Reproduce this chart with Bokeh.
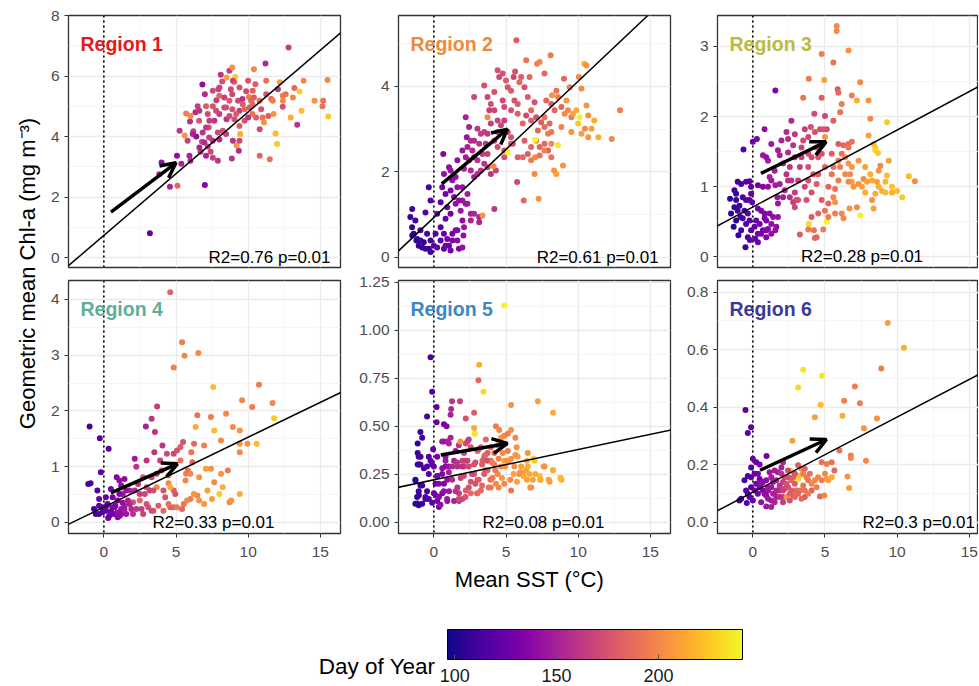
import math
from bokeh.plotting import figure
from bokeh.models import (Range1d, FixedTicker, PrintfTickFormatter, Span, Slope, Arrow,
                          OpenHead, Label, ColumnDataSource, LinearColorMapper, ColorBar)
from bokeh.layouts import row, column
from bokeh.palettes import Plasma256
from bokeh.embed import file_html
from bokeh.resources import INLINE

FONT = "Liberation Sans"

# ---------------- data ----------------
region_names = ["Region 1", "Region 2", "Region 3", "Region 4", "Region 5", "Region 6"]
region_colors = ["#E41A1C", "#EE8A3C", "#BBBB3F", "#5FAF97", "#3D87C6", "#3A3A98"]

# (mean SST degC, geometric mean Chl-a mg m-3, day of year)
region1 = [
    (3.19, 0.80, 125), (7.0, 2.4, 135), (5.1, 2.37, 185), (4.58, 2.34, 150), (4.0, 3.14, 140),
    (3.84, 2.75, 150), (5.07, 3.36, 140), (5.37, 3.1, 150), (5.93, 3.36, 150), (6.0, 3.2, 155),
    (5.25, 4.19, 160), (5.6, 4.03, 205), (5.7, 4.76, 195), (5.97, 4.5, 160), (6.2, 4.17, 165),
    (6.4, 4.0, 140), (6.7, 3.5, 160), (6.8, 3.83, 170), (7.0, 5.4, 155), (6.83, 5.72, 140),
    (7.2, 4.74, 170), (7.27, 4.3, 175), (7.3, 3.97, 165), (7.4, 3.5, 170), (7.9, 3.2, 160),
    (7.8, 5.2, 165), (8.0, 5.35, 185), (8.1, 6.04, 160), (8.2, 5.82, 175), (8.5, 5.95, 210),
    (8.7, 6.17, 165), (8.8, 5.56, 170), (8.9, 6.28, 205), (9.05, 5.8, 190), (9.1, 5.97, 225),
    (9.3, 5.18, 170), (9.4, 4.85, 165), (9.05, 4.57, 175), (8.7, 5.18, 180), (8.35, 4.96, 170),
    (8.5, 4.57, 160), (8.24, 4.19, 175), (8.0, 3.9, 155), (7.55, 3.3, 165), (8.87, 3.27, 160),
    (9.35, 3.53, 155), (9.2, 3.7, 205), (9.45, 4.08, 215), (9.75, 4.52, 175), (9.86, 5.5, 170),
    (10.0, 5.84, 175), (10.05, 5.31, 195), (10.1, 4.96, 180), (10.3, 5.07, 185), (10.4, 6.22, 200),
    (10.5, 5.73, 180), (10.55, 4.63, 180), (10.8, 4.24, 170), (10.8, 3.36, 185), (11.1, 4.46, 205),
    (11.2, 6.41, 155), (11.25, 5.4, 175), (11.4, 4.68, 180), (11.5, 3.25, 190), (11.6, 5.24, 185),
    (11.76, 4.74, 205), (11.9, 4.1, 220), (12.0, 3.75, 225), (12.06, 5.56, 160), (12.2, 5.79, 210),
    (12.4, 5.35, 195), (12.4, 4.98, 175), (12.6, 5.4, 190), (12.8, 6.94, 165), (12.95, 4.63, 215),
    (13.1, 5.29, 200), (13.2, 5.6, 185), (13.4, 4.39, 160), (13.56, 5.49, 225), (13.7, 4.85, 220),
    (13.84, 5.84, 200), (14.6, 5.18, 205), (15.2, 5.18, 190), (15.15, 5.0, 190), (15.5, 5.87, 200),
    (15.55, 4.66, 225), (6.85, 4.13, 160), (6.97, 3.8, 155), (7.2, 3.67, 165), (7.9, 4.13, 170),
    (7.66, 4.52, 160), (8.0, 4.74, 165), (8.7, 4.68, 170), (8.9, 4.9, 175), (9.4, 4.35, 180),
    (9.75, 4.9, 185), (10.3, 4.74, 190), (10.4, 5.29, 180), (10.9, 4.9, 175), (11.0, 4.63, 190),
    (6.5, 5.0, 165), (6.35, 4.8, 155), (6.6, 4.52, 175), (7.55, 5.0, 175), (8.35, 5.29, 165),
    (8.9, 5.4, 170), (10.0, 4.63, 160), (7.08, 5.0, 180), (5.8, 3.86, 165), (6.0, 4.68, 200),
    (7.08, 3.36, 150), (7.94, 5.56, 165), (9.6, 5.24, 160), (7.55, 5.51, 170),
    (6.62, 4.85, 160), (7.31, 4.52, 165), (7.78, 4.85, 170), (8.47, 4.96, 172), (9.17, 4.74, 178),
    (9.63, 5.07, 180), (10.21, 5.18, 185), (10.79, 5.18, 188), (11.71, 5.18, 195), (12.41, 5.18, 200),
    (8.47, 4.08, 165), (8.94, 3.86, 160), (9.4, 3.86, 170), (7.55, 3.86, 158), (6.62, 3.64, 152),
    (6.16, 4.08, 150), (7.08, 4.3, 162), (8.01, 5.62, 168), (9.4, 5.62, 175), (10.32, 5.51, 182),
    (11.25, 5.84, 190), (8.94, 5.84, 168),
]

region2 = [
    (-1.5, 1.13, 110), (-1.63, 0.94, 108), (-1.28, 0.86, 112), (-1.4, 0.55, 105), (-1.5, 0.51, 103),
    (-1.16, 0.43, 108), (-1.05, 0.27, 105), (-0.81, 0.23, 110), (-0.7, 0.35, 106), (-0.93, 0.63, 118),
    (-0.47, 0.55, 112), (-0.35, 0.2, 105), (-0.23, 0.12, 108), (0.0, 0.27, 120), (0.23, 0.23, 125),
    (-0.35, 1.64, 115), (-0.23, 1.33, 120), (-0.58, 1.05, 118), (0.23, 1.02, 125), (0.47, 1.29, 122),
    (0.58, 1.64, 130), (0.7, 1.95, 140), (0.65, 2.42, 135), (0.81, 1.48, 130), (0.93, 1.17, 128),
    (0.81, 0.9, 125), (0.47, 0.7, 120), (0.7, 0.55, 125), (0.93, 0.43, 130), (1.05, 0.27, 128),
    (0.7, 0.2, 122), (1.16, 0.16, 130), (1.28, 0.39, 135), (1.51, 0.63, 135), (1.63, 0.39, 138),
    (1.74, 0.2, 132), (1.98, 0.23, 140), (2.05, 0.51, 140), (2.09, 0.7, 145), (1.98, 0.86, 138),
    (1.86, 1.09, 145), (1.51, 1.25, 140), (1.4, 1.41, 138), (1.16, 1.56, 135), (1.28, 1.8, 140),
    (1.63, 1.64, 142), (1.05, 2.11, 140), (1.16, 2.03, 145), (1.98, 1.33, 145), (2.33, 1.25, 148),
    (2.56, 1.02, 150), (2.79, 1.02, 152), (3.14, 0.94, 150), (3.37, 0.98, 205), (3.14, 0.82, 152),
    (2.56, 0.86, 150), (2.2, 1.25, 145), (4.19, 1.13, 160), (2.33, 1.48, 148), (2.21, 3.28, 150),
    (2.44, 3.05, 150), (2.28, 2.81, 145), (2.56, 2.73, 155), (2.33, 2.58, 150), (2.67, 2.5, 155),
    (2.79, 2.34, 150), (2.44, 2.27, 155), (2.09, 2.07, 150), (2.56, 2.03, 155), (2.79, 1.88, 150),
    (3.02, 1.95, 155), (3.26, 2.03, 160), (3.49, 2.19, 160), (3.72, 2.11, 165), (3.95, 1.95, 160),
    (4.3, 2.03, 165), (4.14, 2.13, 200), (3.02, 2.27, 160), (3.37, 2.42, 165), (3.6, 2.66, 160),
    (3.26, 2.89, 165), (3.02, 3.01, 160), (2.79, 3.75, 170), (3.49, 4.02, 175), (3.72, 3.75, 170),
    (3.95, 3.59, 175), (4.19, 3.87, 175), (4.42, 4.38, 175), (4.53, 4.22, 170), (4.77, 4.3, 175),
    (5.0, 4.14, 180), (5.12, 3.98, 175), (5.35, 3.9, 180), (5.53, 4.22, 170), (5.63, 4.35, 175),
    (5.72, 5.08, 180), (5.93, 4.1, 185), (6.05, 4.22, 180), (6.28, 3.98, 175), (6.4, 4.61, 190),
    (6.63, 4.22, 185), (6.51, 3.75, 180), (6.74, 3.44, 185), (6.98, 3.63, 175), (7.16, 4.53, 195),
    (7.33, 4.57, 200), (7.67, 4.3, 185), (7.79, 3.67, 185), (8.09, 4.73, 195), (8.14, 3.59, 180),
    (8.19, 3.79, 205), (8.37, 3.44, 185), (8.49, 3.9, 190), (8.6, 3.75, 195), (8.84, 3.52, 185),
    (9.02, 4.18, 185), (9.19, 3.67, 205), (9.3, 3.44, 200), (9.53, 3.28, 195), (9.65, 3.36, 210),
    (9.88, 3.44, 215), (10.0, 3.13, 225), (10.1, 3.28, 240), (10.05, 4.22, 200), (10.23, 3.95, 200),
    (10.42, 4.53, 215), (10.58, 4.49, 205), (10.47, 3.01, 200), (10.58, 3.55, 205), (10.7, 3.32, 205),
    (10.93, 3.01, 210), (11.12, 3.2, 215), (11.4, 2.81, 215), (10.7, 2.81, 205), (12.33, 2.77, 200),
    (12.9, 3.44, 195), (4.42, 2.93, 170), (4.65, 3.09, 170), (4.88, 3.2, 165), (5.12, 2.93, 170),
    (5.35, 2.81, 175), (5.47, 2.66, 170), (4.88, 2.5, 175), (5.12, 2.46, 240), (5.81, 2.34, 180),
    (6.16, 2.34, 185), (6.51, 2.42, 180), (6.74, 2.27, 195), (7.09, 2.73, 195), (7.02, 2.75, 240),
    (7.33, 2.58, 185), (7.67, 2.66, 185), (7.91, 2.5, 180), (8.14, 2.34, 190), (8.33, 2.03, 205),
    (8.49, 1.95, 210), (8.6, 2.62, 235), (8.95, 2.15, 205), (6.98, 1.95, 200), (7.02, 2.34, 200),
    (7.33, 2.38, 190), (5.77, 1.76, 170), (6.23, 1.33, 185), (7.26, 1.37, 205), (5.81, 3.36, 180),
    (6.16, 3.13, 185), (6.4, 3.32, 170), (5.58, 3.67, 175), (4.77, 3.67, 170), (4.19, 3.44, 170),
    (3.84, 3.44, 165), (3.72, 3.28, 200), (3.95, 3.13, 165), (3.49, 2.93, 165), (7.67, 3.28, 190),
    (8.02, 3.13, 185), (7.44, 3.16, 180), (7.09, 3.28, 175), (7.91, 2.89, 195), (9.07, 3.36, 200),
    (9.42, 3.98, 195),
    (-1.51, 0.7, 106), (-1.21, 0.39, 107), (-0.93, 0.39, 108), (-0.58, 0.2, 110), (-0.23, 0.39, 115),
    (0.12, 0.55, 120), (0.47, 0.39, 122), (0.81, 0.27, 126), (1.28, 0.55, 132), (1.63, 0.63, 136),
    (1.16, 1.02, 130), (1.74, 1.33, 140), (1.98, 1.64, 142), (1.51, 1.88, 140), (1.63, 2.27, 142),
    (1.98, 2.5, 145), (2.21, 2.34, 148), (2.79, 2.73, 155), (3.14, 2.66, 160), (3.72, 2.89, 162),
    (4.19, 2.73, 168), (4.42, 3.2, 168), (4.88, 3.52, 172), (5.35, 3.44, 175), (5.81, 3.59, 178),
    (6.74, 3.2, 182), (7.21, 2.97, 185), (7.67, 3.05, 188), (8.14, 2.93, 192), (8.84, 3.05, 198),
    (9.53, 2.93, 205), (10.23, 2.89, 210), (6.28, 2.73, 180), (6.74, 2.58, 185), (7.67, 2.5, 195),
    (8.14, 2.66, 200), (5.35, 2.66, 178), (4.42, 2.58, 172), (3.72, 2.42, 165), (4.88, 2.34, 176),
]

region3 = [
    (-1.58, 0.83, 105), (-1.28, 0.95, 110), (-1.16, 0.9, 108), (-1.05, 1.07, 112), (-0.81, 1.04, 115),
    (-0.47, 1.07, 118), (-0.23, 1.08, 122), (-1.28, 0.71, 108), (-1.05, 0.66, 110), (-1.16, 0.52, 106),
    (-1.33, 0.43, 104), (-1.0, 0.31, 106), (-0.81, 0.38, 110), (-0.7, 0.55, 115), (-0.47, 0.47, 118),
    (-0.35, 0.62, 120), (-0.23, 0.81, 118), (-0.12, 0.9, 125), (-0.35, 0.28, 115), (-0.51, 0.14, 110),
    (-0.21, 0.24, 122), (0.16, 0.26, 125), (0.35, 0.33, 130), (0.12, 0.43, 125), (0.23, 0.52, 128),
    (0.35, 0.69, 130), (0.58, 0.66, 132), (0.81, 0.62, 135), (0.93, 0.52, 135), (1.05, 0.4, 138),
    (1.28, 0.33, 140), (0.93, 0.28, 135), (0.7, 0.38, 130), (1.4, 0.57, 140), (1.74, 0.57, 142),
    (1.63, 0.43, 140), (1.7, 0.85, 145), (2.09, 0.85, 148), (1.56, 2.37, 135), (0.81, 1.82, 140),
    (0.28, 1.68, 130), (0.0, 1.64, 125), (-0.65, 1.53, 118), (-0.05, 0.78, 125), (-0.12, 1.0, 122),
    (0.35, 1.02, 130), (0.7, 1.0, 135), (1.05, 1.0, 140), (1.28, 1.09, 145), (1.56, 1.02, 148),
    (0.7, 1.45, 145), (1.05, 1.37, 148), (1.16, 1.14, 150), (1.51, 1.23, 150), (1.86, 1.45, 150),
    (1.98, 1.66, 150), (2.33, 1.78, 155), (2.44, 1.68, 155), (2.67, 1.94, 155), (2.91, 1.75, 160),
    (2.79, 1.59, 160), (2.44, 1.49, 155), (2.09, 1.33, 155), (2.33, 1.18, 160), (2.56, 1.28, 160),
    (2.67, 1.09, 160), (2.91, 0.92, 165), (3.02, 0.81, 170), (2.79, 0.78, 165), (3.14, 1.09, 165),
    (3.26, 1.28, 165), (3.37, 1.42, 165), (3.6, 1.82, 165), (3.49, 1.66, 170), (3.84, 1.71, 170),
    (4.02, 1.85, 175), (4.26, 2.04, 170), (4.3, 1.78, 175), (4.42, 1.56, 175), (4.07, 1.42, 170),
    (3.84, 1.28, 175), (4.19, 1.18, 175), (4.42, 1.04, 180), (4.07, 0.92, 175), (3.72, 0.81, 175),
    (3.88, 0.47, 230), (3.84, 0.39, 195), (4.23, 0.38, 190), (4.42, 0.28, 185), (4.3, 0.27, 185),
    (3.26, 0.32, 180), (4.88, 0.39, 195), (5.12, 0.5, 240), (5.0, 0.66, 190), (5.23, 0.76, 185),
    (4.77, 0.81, 180), (5.23, 1.0, 185), (5.47, 1.18, 190), (5.58, 0.85, 200), (5.7, 0.78, 205),
    (5.7, 0.97, 190), (5.93, 1.09, 195), (6.05, 1.28, 195), (6.16, 1.47, 190), (6.28, 1.59, 185),
    (6.4, 1.42, 200), (6.63, 1.33, 205), (6.74, 1.18, 200), (6.86, 1.07, 210), (6.98, 1.0, 205),
    (6.63, 1.07, 200), (6.16, 0.62, 200), (6.28, 0.55, 200), (6.7, 0.69, 205), (7.44, 0.59, 240),
    (7.21, 0.71, 200), (7.33, 1.04, 205), (7.56, 1.0, 210), (7.79, 0.92, 215), (7.67, 1.11, 200),
    (7.91, 1.07, 210), (8.14, 1.18, 215), (8.26, 0.81, 205), (8.37, 0.69, 210), (8.49, 0.9, 215),
    (8.6, 1.07, 210), (8.72, 1.23, 205), (8.84, 1.3, 200), (8.95, 0.94, 215), (9.19, 0.92, 220),
    (9.3, 1.16, 220), (9.42, 1.37, 210), (9.65, 0.92, 215), (10.0, 0.94, 220), (10.35, 0.85, 225),
    (10.81, 1.15, 220), (11.23, 1.08, 200), (9.3, 1.92, 225), (8.49, 1.56, 225), (8.49, 1.52, 230),
    (8.67, 1.48, 225), (8.37, 1.61, 220), (8.02, 1.73, 210), (8.14, 1.97, 200), (8.02, 2.23, 205),
    (7.21, 2.23, 215), (7.44, 2.49, 200), (6.86, 2.3, 195), (6.16, 2.18, 195), (6.05, 2.06, 190),
    (5.88, 2.39, 180), (5.93, 2.34, 185), (5.58, 2.77, 190), (6.63, 2.94, 205), (5.81, 3.29, 200),
    (5.81, 3.22, 200), (4.77, 2.89, 195), (4.95, 2.52, 210), (3.88, 2.54, 195), (3.49, 2.27, 190),
    (4.77, 2.27, 180), (5.0, 2.01, 170), (5.58, 1.94, 180), (6.63, 1.61, 185), (6.86, 1.64, 190),
    (6.63, 1.56, 190), (5.12, 1.82, 170), (5.47, 1.47, 180), (5.93, 1.61, 180), (4.77, 1.47, 175),
    (5.0, 1.71, 205), (4.65, 1.82, 175), (4.88, 1.82, 175),
    (-1.51, 0.62, 106), (-1.16, 0.81, 108), (-0.93, 0.73, 110), (-0.7, 0.85, 115), (-0.47, 0.81, 118),
    (-0.86, 0.57, 112), (-0.58, 0.66, 115), (-0.23, 0.52, 120), (-0.12, 0.38, 122), (0.47, 0.47, 128),
    (0.81, 0.55, 132), (1.16, 0.62, 138), (1.28, 0.47, 140), (0.93, 0.38, 136), (0.58, 0.33, 130),
    (0.35, 0.21, 128), (1.56, 0.38, 142), (1.74, 0.76, 145), (1.86, 1.04, 148), (2.21, 0.95, 152),
    (2.56, 0.85, 158), (3.14, 0.81, 175), (3.6, 1.0, 170), (3.84, 1.09, 172), (4.53, 1.18, 180),
    (5.0, 1.28, 185), (5.58, 1.28, 190), (5.93, 1.37, 192), (6.4, 1.18, 200), (6.86, 1.28, 205),
    (7.33, 1.37, 205), (7.79, 1.28, 210), (8.26, 1.09, 212), (8.72, 1.0, 215), (9.19, 1.07, 218),
    (9.65, 1.0, 222), (5.7, 0.62, 195), (5.23, 0.57, 195), (4.53, 0.62, 185), (4.07, 0.57, 180),
    (2.91, 0.71, 170), (2.44, 1.09, 158), (1.74, 1.52, 148), (1.28, 1.61, 145), (0.93, 1.42, 142),
    (2.91, 1.42, 162), (3.37, 1.56, 168), (3.84, 1.47, 172), (4.53, 1.42, 178),
]

region4 = [
    (-0.99, 1.72, 115), (-0.28, 1.51, 118), (0.33, 1.32, 120), (-1.08, 0.69, 112), (-0.92, 0.7, 115),
    (-0.45, 0.57, 118), (-0.21, 0.9, 122), (-0.33, 0.42, 125), (-0.68, 0.24, 110), (0.14, 0.45, 125),
    (0.49, 0.6, 130), (0.89, 0.81, 135), (1.08, 0.75, 138), (1.43, 0.78, 140), (0.96, 0.39, 135),
    (0.61, 0.27, 130), (-0.09, 0.18, 120), (-0.56, 0.15, 115), (-0.33, 0.3, 120), (0.14, 0.21, 125),
    (0.38, 0.12, 128), (0.73, 0.15, 132), (0.96, 0.18, 140), (1.2, 0.24, 142), (1.43, 0.3, 148),
    (1.67, 0.39, 150), (1.55, 0.15, 145), (1.9, 0.24, 155), (2.14, 0.57, 155), (2.37, 0.69, 160),
    (2.14, 1.14, 145), (2.49, 0.39, 185), (2.02, 0.36, 175), (2.61, 0.24, 165), (2.84, 0.51, 170),
    (2.96, 0.33, 175), (3.19, 0.57, 165), (3.31, 0.21, 170), (2.91, 1.72, 150), (2.96, 1.11, 160),
    (3.31, 1.86, 160), (3.5, 1.26, 160), (3.69, 2.08, 165), (3.66, 0.87, 165), (4.06, 1.38, 160),
    (3.9, 1.11, 165), (4.13, 0.57, 175), (4.25, 0.45, 175), (4.48, 0.7, 200), (4.6, 0.27, 180),
    (4.84, 0.57, 180), (4.95, 0.51, 175), (4.84, 0.27, 185), (4.6, 4.13, 185), (4.84, 2.78, 195),
    (5.42, 3.23, 195), (5.59, 2.99, 200), (6.55, 3.04, 200), (4.84, 1.23, 170), (5.07, 1.29, 175),
    (5.31, 1.35, 180), (5.49, 1.44, 175), (5.31, 1.11, 190), (5.66, 0.75, 200), (5.7, 0.87, 195),
    (5.82, 0.93, 190), (6.0, 0.87, 200), (6.13, 1.08, 185), (6.06, 1.26, 190), (6.25, 1.41, 185),
    (6.48, 1.92, 190), (6.36, 1.71, 215), (6.6, 0.81, 205), (6.48, 0.48, 200), (6.6, 0.39, 205),
    (6.0, 0.42, 195), (5.54, 0.33, 190), (5.42, 0.24, 185), (6.95, 1.38, 195), (7.07, 0.96, 210),
    (7.42, 0.96, 205), (7.65, 0.72, 200), (7.49, 0.42, 210), (6.95, 0.33, 205), (7.42, 1.89, 195),
    (7.58, 2.43, 220), (7.65, 1.65, 220), (8.12, 1.47, 200), (8.12, 0.87, 205), (8.24, 0.63, 215),
    (8.0, 0.51, 225), (8.47, 1.95, 200), (8.59, 0.93, 195), (8.71, 0.36, 200), (8.83, 0.39, 205),
    (8.94, 1.71, 200), (9.42, 1.65, 205), (9.42, 1.41, 205), (9.42, 1.26, 200), (9.42, 0.51, 215),
    (9.58, 2.19, 200), (9.95, 1.41, 205), (10.28, 2.07, 195), (10.59, 1.41, 220), (10.75, 2.47, 195),
    (11.69, 2.14, 200), (11.8, 1.87, 225), (4.37, 1.23, 170), (3.54, 1.62, 160), (4.0, 0.93, 170),
    (3.31, 0.81, 170), (3.66, 0.63, 200), (4.6, 0.63, 215), (4.48, 0.84, 200), (2.72, 0.81, 175),
    (2.25, 1.0, 160), (1.78, 0.57, 150), (1.31, 0.51, 145), (1.2, 0.66, 140), (0.2, 0.3, 122),
    (0.5, 0.2, 128), (0.8, 0.3, 133), (1.1, 0.12, 138), (1.3, 0.35, 140), (0.3, 0.08, 125),
    (-0.33, 0.15, 112), (-0.09, 0.27, 118), (0.26, 0.33, 124), (0.49, 0.15, 128), (0.73, 0.27, 132),
    (0.96, 0.09, 136), (1.2, 0.15, 140), (1.43, 0.24, 145), (1.78, 0.33, 152), (2.02, 0.15, 158),
    (2.25, 0.24, 162), (2.72, 0.15, 168), (3.08, 0.27, 172), (3.43, 0.21, 176), (3.78, 0.3, 180),
    (4.13, 0.21, 185), (4.48, 0.33, 190), (5.07, 0.27, 195), (5.77, 0.39, 200), (6.24, 0.51, 205),
    (7.18, 0.57, 210), (0.61, 0.45, 130), (1.08, 0.51, 135), (1.55, 0.57, 145), (2.49, 0.51, 165),
    (2.96, 0.63, 170), (3.43, 0.57, 172),
]

region5 = [
    (-0.23, 0.86, 115), (-0.12, 0.68, 118), (0.19, 0.6, 122), (-0.47, 0.55, 115), (0.19, 0.52, 125),
    (0.7, 0.51, 130), (0.88, 0.5, 135), (-0.05, 0.38, 120), (-0.93, 0.47, 112), (-0.81, 0.44, 110),
    (-1.12, 0.41, 105), (-1.12, 0.36, 108), (-1.05, 0.34, 110), (-0.93, 0.3, 112), (-1.12, 0.3, 108),
    (-1.28, 0.22, 105), (-0.93, 0.19, 110), (-1.05, 0.16, 106), (-1.16, 0.13, 105), (-1.28, 0.095, 104),
    (-1.05, 0.087, 105), (-0.81, 0.095, 108), (-0.58, 0.12, 112), (-0.47, 0.16, 115), (-0.35, 0.25, 118),
    (-0.47, 0.29, 115), (-0.23, 0.32, 122), (0.0, 0.29, 125), (0.23, 0.24, 128), (0.12, 0.2, 126),
    (0.0, 0.15, 125), (0.23, 0.11, 128), (0.35, 0.078, 130), (0.58, 0.15, 132), (0.7, 0.2, 135),
    (0.58, 0.25, 135), (0.81, 0.29, 138), (0.81, 0.34, 140), (0.7, 0.42, 145), (0.93, 0.42, 148),
    (1.16, 0.44, 150), (1.16, 0.56, 150), (1.2, 0.59, 155), (1.81, 0.63, 165), (1.26, 0.63, 160),
    (1.51, 0.37, 145), (1.4, 0.32, 150), (1.05, 0.29, 145), (0.93, 0.22, 140), (1.05, 0.16, 145),
    (0.93, 0.11, 140), (1.4, 0.11, 150), (1.74, 0.11, 160), (1.74, 0.15, 165), (1.63, 0.18, 160),
    (1.86, 0.23, 165), (2.09, 0.29, 170), (1.98, 0.32, 165), (2.09, 0.36, 170), (2.21, 0.41, 175),
    (2.33, 0.42, 170), (2.56, 0.39, 175), (2.21, 0.54, 175), (2.79, 0.57, 180), (2.79, 0.49, 215),
    (2.84, 0.46, 235), (3.14, 0.82, 215), (3.09, 0.74, 185), (3.44, 0.68, 230), (3.02, 0.37, 185),
    (3.26, 0.39, 180), (3.6, 0.43, 185), (3.72, 0.36, 180), (3.49, 0.34, 175), (3.95, 0.32, 190),
    (4.19, 0.3, 195), (4.3, 0.5, 195), (4.53, 0.48, 200), (4.65, 0.44, 205), (4.88, 0.45, 200),
    (5.35, 0.48, 205), (5.65, 0.44, 200), (5.74, 0.39, 205), (5.35, 0.61, 205), (7.21, 0.63, 210),
    (8.26, 0.57, 215), (4.88, 1.13, 240), (3.49, 0.25, 180), (3.72, 0.27, 185), (4.07, 0.23, 195),
    (4.3, 0.2, 200), (4.42, 0.25, 200), (4.65, 0.29, 205), (4.88, 0.32, 210), (5.12, 0.32, 200),
    (5.35, 0.33, 205), (5.58, 0.29, 205), (5.81, 0.34, 210), (6.05, 0.29, 210), (6.16, 0.25, 205),
    (6.4, 0.27, 210), (6.63, 0.25, 215), (6.51, 0.29, 215), (6.86, 0.22, 210), (6.74, 0.18, 200),
    (7.33, 0.24, 220), (7.4, 0.22, 225), (7.67, 0.29, 205), (8.02, 0.21, 210), (8.26, 0.27, 215),
    (8.79, 0.23, 210), (8.84, 0.22, 215), (5.35, 0.165, 190), (4.88, 0.2, 200), (3.26, 0.165, 185),
    (3.02, 0.22, 180), (2.79, 0.25, 175), (2.56, 0.21, 175), (2.21, 0.165, 180), (3.02, 0.15, 190),
    (2.56, 0.15, 185), (1.98, 0.12, 170), (3.37, 0.32, 180), (3.95, 0.39, 185), (4.19, 0.36, 190),
    (4.42, 0.4, 190), (5.12, 0.37, 195), (5.12, 0.46, 195), (4.77, 0.36, 200), (1.63, 0.29, 155),
    (2.79, 0.3, 175), (2.33, 0.32, 170), (6.98, 0.32, 225), (6.51, 0.36, 205), (5.93, 0.25, 200),
    (3.95, 0.18, 195),
    (-1.27, 0.217, 105), (-1.04, 0.30, 110), (-0.92, 0.34, 112), (-0.69, 0.28, 115), (-0.81, 0.19, 110),
    (-1.04, 0.14, 108), (-0.58, 0.13, 115), (-1.15, 0.096, 106), (-0.35, 0.12, 118), (-0.12, 0.10, 122),
    (0.12, 0.14, 128), (0.35, 0.20, 135), (0.23, 0.24, 132), (0.58, 0.28, 140), (0.81, 0.32, 145),
    (1.04, 0.26, 150), (1.27, 0.22, 155), (0.69, 0.16, 140), (0.92, 0.12, 145), (0.46, 0.09, 140),
    (1.5, 0.16, 160), (1.73, 0.12, 170), (1.96, 0.29, 160), (2.19, 0.32, 165), (2.08, 0.24, 170),
    (2.42, 0.18, 175), (2.65, 0.25, 170), (2.88, 0.31, 175), (3.11, 0.22, 180), (3.0, 0.15, 185),
    (3.34, 0.19, 185), (3.57, 0.27, 180), (3.69, 0.32, 175), (3.92, 0.22, 190), (4.03, 0.31, 195),
    (4.26, 0.27, 195), (4.49, 0.18, 200), (4.72, 0.23, 205), (4.95, 0.29, 205), (5.19, 0.32, 205),
    (5.3, 0.22, 200), (5.53, 0.25, 210), (5.76, 0.21, 210), (5.99, 0.26, 205), (6.22, 0.24, 215),
    (6.45, 0.22, 210), (6.68, 0.18, 205), (7.03, 0.25, 215), (7.38, 0.22, 215), (7.61, 0.29, 205),
    (7.96, 0.22, 210), (8.24, 0.27, 215), (8.77, 0.23, 220), (1.73, 0.40, 160), (2.42, 0.43, 165),
    (1.84, 0.42, 205), (3.11, 0.38, 175), (3.57, 0.35, 185), (4.49, 0.33, 195), (5.65, 0.35, 205),
    (6.45, 0.32, 215), (6.91, 0.33, 225), (1.04, 0.41, 150), (0.58, 0.42, 145), (0.23, 0.34, 130),
    (-0.12, 0.30, 125), (-0.35, 0.34, 120), (0.35, 0.13, 135), (2.19, 0.13, 175), (3.8, 0.18, 190),
    (2.88, 0.20, 175), (1.27, 0.29, 155), (1.61, 0.31, 160), (2.42, 0.29, 170), (3.34, 0.30, 180),
]

region6 = [
    (-0.51, 0.39, 120), (-0.12, 0.33, 122), (-0.35, 0.31, 118), (0.0, 0.22, 125), (0.47, 0.2, 135),
    (0.95, 0.23, 130), (-0.35, 0.16, 115), (-0.12, 0.156, 118), (0.12, 0.168, 125), (0.47, 0.15, 128),
    (0.23, 0.133, 130), (-0.12, 0.121, 120), (-0.47, 0.11, 118), (-0.23, 0.087, 122), (-0.93, 0.075, 110),
    (-0.81, 0.081, 112), (-0.42, 0.066, 118), (0.0, 0.075, 125), (0.35, 0.098, 130), (0.7, 0.11, 135),
    (0.93, 0.092, 140), (0.58, 0.069, 140), (0.93, 0.054, 145), (1.28, 0.075, 150), (1.51, 0.098, 150),
    (1.28, 0.121, 145), (1.63, 0.145, 150), (1.74, 0.173, 150), (1.98, 0.19, 150), (1.51, 0.179, 148),
    (1.16, 0.173, 145), (2.09, 0.208, 155), (1.86, 0.11, 155), (2.09, 0.087, 165), (2.21, 0.116, 170),
    (2.44, 0.121, 175), (2.33, 0.087, 205), (2.56, 0.098, 180), (2.63, 0.177, 225), (2.67, 0.145, 185),
    (2.91, 0.133, 180), (3.02, 0.11, 185), (3.14, 0.15, 230), (3.26, 0.162, 220), (3.37, 0.185, 200),
    (3.49, 0.168, 195), (3.6, 0.087, 180), (3.37, 0.081, 185), (3.72, 0.156, 195), (3.84, 0.145, 190),
    (4.07, 0.11, 185), (4.3, 0.145, 200), (4.42, 0.121, 195), (4.65, 0.089, 185), (4.95, 0.092, 200),
    (4.77, 0.145, 195), (5.0, 0.168, 200), (5.12, 0.15, 205), (5.23, 0.145, 210), (5.47, 0.156, 215),
    (4.77, 0.208, 190), (5.12, 0.202, 195), (5.47, 0.208, 190), (5.65, 0.179, 185), (6.0, 0.249, 190),
    (6.79, 0.231, 195), (6.79, 0.223, 200), (7.84, 0.213, 200), (6.56, 0.158, 205), (6.67, 0.118, 210),
    (2.74, 0.283, 210), (3.14, 0.468, 230), (3.49, 0.53, 235), (4.79, 0.509, 235), (4.7, 0.408, 220),
    (4.3, 0.364, 210), (6.21, 0.37, 215), (6.33, 0.422, 195), (7.07, 0.471, 195), (7.42, 0.413, 195),
    (7.7, 0.326, 205), (8.6, 0.36, 205), (8.9, 0.534, 195), (9.35, 0.692, 210), (10.47, 0.606, 215),
    (3.14, 0.197, 180), (3.6, 0.185, 185), (3.95, 0.168, 190), (2.91, 0.168, 175), (2.21, 0.156, 170),
    (2.44, 0.156, 175), (1.4, 0.139, 145), (0.93, 0.145, 140), (0.7, 0.139, 138), (0.47, 0.121, 135),
    (2.09, 0.139, 165), (1.86, 0.127, 160), (1.05, 0.11, 145), (1.63, 0.087, 150), (1.28, 0.052, 150),
    (2.56, 0.075, 175), (2.79, 0.092, 180),
    (-0.58, 0.145, 115), (0.12, 0.11, 128), (0.58, 0.133, 138), (0.81, 0.098, 140), (1.05, 0.121, 145),
    (1.4, 0.098, 150), (1.63, 0.11, 152), (1.86, 0.087, 158), (2.09, 0.11, 165), (2.33, 0.133, 175),
    (2.67, 0.11, 180), (2.91, 0.087, 185), (3.26, 0.11, 190), (3.49, 0.127, 190), (3.84, 0.098, 195),
    (4.07, 0.133, 200), (4.53, 0.156, 200), (0.35, 0.168, 130), (-0.12, 0.19, 120), (0.23, 0.208, 125),
    (1.28, 0.156, 148), (1.98, 0.168, 160), (2.44, 0.179, 170), (2.79, 0.156, 180), (1.05, 0.081, 145),
    (1.51, 0.069, 150), (2.09, 0.069, 165), (3.14, 0.098, 185), (3.6, 0.11, 190), (-0.35, 0.098, 118),
]

# linear fits (slope, intercept) and R2 annotations
fit_slopes = [0.408, 0.319, 0.1096, 0.1254, 0.01584, 0.02615]
fit_intercepts = [0.73, 0.93, 0.713, 0.273, 0.22, 0.1034]
r2_texts = ["R2=0.76 p=0.01", "R2=0.61 p=0.01", "R2=0.28 p=0.01",
            "R2=0.33 p=0.01", "R2=0.08 p=0.01", "R2=0.3 p=0.01"]
r2_x = [11.48, 11.35, 7.57, 7.6, 7.6, 11.5]
r2_y = [0, 0, 0, 0, 0, 0]

# trend arrows (start -> end)
arrow_x0 = [0.49, 0.55, 0.56, 0.49, 0.48, 0.5]
arrow_y0 = [1.5, 1.72, 1.19, 0.53, 0.35, 0.18]
arrow_x1 = [5.0, 5.1, 5.07, 5.1, 5.1, 5.1]
arrow_y1 = [3.13, 3.0, 1.64, 1.05, 0.41, 0.287]

# axes
x_ticks = [0, 5, 10, 15]
x_minor = [-2.5, 2.5, 7.5, 12.5]
y_limits = [(-0.33, 8.0), (-0.24, 5.66), (-0.15, 3.44), (-0.2, 4.34), (-0.06, 1.26), (-0.04, 0.84)]
y_ticks = [[0, 2, 4, 6, 8], [0, 2, 4], [0, 1, 2, 3], [0, 1, 2, 3, 4],
           [0, 0.25, 0.5, 0.75, 1.0, 1.25], [0, 0.2, 0.4, 0.6, 0.8]]
y_minor = [[1, 3, 5, 7], [1, 3, 5], [0.5, 1.5, 2.5], [0.5, 1.5, 2.5, 3.5],
           [0.125, 0.375, 0.625, 0.875, 1.125], [0.1, 0.3, 0.5, 0.7]]
y_formats = [None, None, None, None, "%.2f", "%.1f"]

doy_limits = (96.4, 241.3)
doy_ticks = [100, 150, 200]

regions = [region1, region2, region3, region4, region5, region6]

# ---------------- layout constants ----------------
X_FULL = (-2.45, 16.4)
X_CUT = (-2.45, 15.64)
YLAB_W = 42
col_specs = [  # width, min_border_left, min_border_right, x range
    (303, 26, 5, X_FULL),
    (330, 53, 5, X_FULL),
    (303, 42, 0, X_CUT),
]
row_specs = [  # height, min_border_top, min_border_bottom, show x axis
    (273, 15, 6, False),
    (290, 7, 30, True),
]

mapper = LinearColorMapper(palette=Plasma256, low=doy_limits[0], high=doy_limits[1])


def make_panel(i):
    r, c = divmod(i, 3)
    w, mbl, mbr, xr = col_specs[c]
    h, mbt, mbb, show_x = row_specs[r]
    frame_h = h - mbt - mbb
    p = figure(width=w, height=h, x_range=Range1d(*xr), y_range=Range1d(*y_limits[i]),
               output_backend="svg", toolbar_location=None, title=None,
               min_border_left=mbl, min_border_right=mbr, min_border_top=mbt, min_border_bottom=mbb,
               x_axis_location="below" if show_x else None)
    p.background_fill_color = "white"
    p.border_fill_color = "white"
    p.outline_line_color = "#333333"
    p.outline_line_width = 1.3

    xt = FixedTicker(ticks=x_ticks, minor_ticks=x_minor)
    yt = FixedTicker(ticks=y_ticks[i], minor_ticks=y_minor[i])
    p.xgrid.ticker = xt
    p.ygrid.ticker = yt
    for g in (p.xgrid, p.ygrid):
        g.grid_line_color = "#EBEBEB"
        g.grid_line_width = 1.3
        g.minor_grid_line_color = "#F4F4F4"
        g.minor_grid_line_width = 0.8
    p.yaxis.ticker = yt
    if y_formats[i]:
        p.yaxis.formatter = PrintfTickFormatter(format=y_formats[i])
    for ax in p.axis:
        ax.axis_line_color = None
        ax.major_tick_line_color = "#333333"
        ax.major_tick_out = 4
        ax.major_tick_in = 0
        ax.minor_tick_line_color = None
        ax.major_label_text_font = FONT
        ax.major_label_text_font_size = "15.5px"
        ax.major_label_text_color = "#4D4D4D"
        ax.major_label_standoff = 5
    if show_x:
        p.xaxis.ticker = xt
        p.xaxis.major_label_standoff = 9

    p.add_layout(Span(location=0, dimension="height", line_color="black", line_width=1.6,
                      line_dash="2 3", level="underlay"))

    sst = [t[0] for t in regions[i]]
    chl = [t[1] for t in regions[i]]
    doy = [t[2] for t in regions[i]]
    src = ColumnDataSource(data=dict(sst=sst, chl=chl, doy=doy))
    p.scatter("sst", "chl", source=src, size=6,
              fill_color={"field": "doy", "transform": mapper}, line_color=None)

    p.add_layout(Slope(gradient=fit_slopes[i], y_intercept=fit_intercepts[i],
                       line_color="black", line_width=1.5))
    p.add_layout(Arrow(end=OpenHead(size=15, line_width=3.5, line_color="black"),
                       x_start=arrow_x0[i], y_start=arrow_y0[i],
                       x_end=arrow_x1[i], y_end=arrow_y1[i],
                       line_width=3.5, line_color="black"))

    p.add_layout(Label(x=12, y=frame_h - 28, x_units="screen", y_units="screen",
                       text=region_names[i], text_font=FONT, text_font_style="bold",
                       text_font_size="19.5px", text_color=region_colors[i],
                       text_align="left", text_baseline="middle"))
    p.add_layout(Label(x=r2_x[i], y=r2_y[i], text=r2_texts[i], text_font=FONT,
                       text_font_size="17px", text_color="black",
                       text_align="center", text_baseline="middle"))
    return p


panels = [make_panel(i) for i in range(6)]

# y-axis title strip
ylab_h = row_specs[0][0] + row_specs[1][0]
ylab = figure(width=YLAB_W, height=ylab_h, x_range=Range1d(0, YLAB_W), y_range=Range1d(0, ylab_h),
              output_backend="svg", toolbar_location=None, title=None, min_border=0,
              x_axis_location=None, y_axis_location=None)
ylab.outline_line_color = None
ylab.xgrid.visible = False
ylab.ygrid.visible = False
ylab.add_layout(Label(x=27, y=ylab_h - 273, angle=math.pi / 2,
                      text="Geometric mean Chl-a (mg m\u207b\u00b3)", text_font=FONT,
                      text_font_size="22px", text_color="black",
                      text_align="center", text_baseline="middle"))

# bottom strip: x title + colour bar
BW, BH = 978, 122
page_bottom = ylab_h + BH
bottom = figure(width=BW, height=BH, x_range=Range1d(0, BW), y_range=Range1d(0, BH),
                output_backend="svg", toolbar_location=None, title=None, min_border=0,
                x_axis_location=None, y_axis_location=None)
bottom.outline_line_color = None
bottom.xgrid.visible = False
bottom.ygrid.visible = False
bottom.add_layout(Label(x=529, y=page_bottom - 579, text="Mean SST (\u00b0C)", text_font=FONT,
                        text_font_size="22px", text_color="black",
                        text_align="center", text_baseline="middle"))
bottom.add_layout(Label(x=435, y=page_bottom - 666, text="Day of Year", text_font=FONT,
                        text_font_size="22.5px", text_color="black",
                        text_align="right", text_baseline="alphabetic"))
cbar = ColorBar(color_mapper=mapper, orientation="horizontal", location=(447, 1),
                width=295, height=30, padding=0,
                ticker=FixedTicker(ticks=doy_ticks),
                major_label_text_font=FONT, major_label_text_font_size="18px",
                major_label_text_color="#1A1A1A", label_standoff=9,
                major_tick_in=5, major_tick_out=0, major_tick_line_color="#555555",
                minor_tick_line_color=None, bar_line_color="black", bar_line_width=1,
                border_line_color=None, background_fill_alpha=0)
bottom.add_layout(cbar, "center")

grid = column(row(panels[0], panels[1], panels[2]), row(panels[3], panels[4], panels[5]))
layout = column(row(ylab, grid), bottom)

open("out.html", "w").write(file_html(layout, INLINE, title="Chl-a vs SST"))
